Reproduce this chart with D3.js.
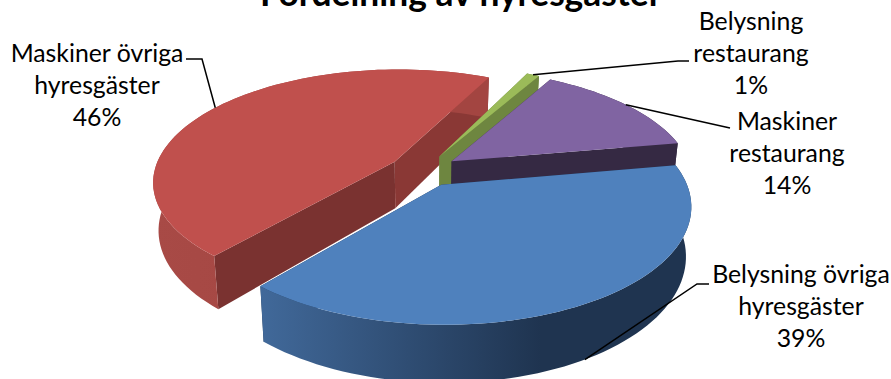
<!DOCTYPE html>
<html lang="sv">
<head>
<meta charset="utf-8">
<title>Fördelning av hyresgäster</title>
<script src="https://cdn.jsdelivr.net/npm/d3@7"></script>
<style>
  html, body { margin: 0; padding: 0; background: #fff; }
  svg { display: block; }
  text { font-family: Lato, "Open Sans", sans-serif; fill: #000; }
</style>
</head>
<body>
<svg id="chart" width="891" height="379"></svg>
<script>
// Slice data, in drawing order around the pie, clockwise
const categories = ["Belysning övriga hyresgäster", "Maskiner övriga hyresgäster", "Belysning restaurang", "Maskiner restaurang"];
const shares = [39, 46, 1, 14];
const labelLines = [["Belysning övriga", "hyresgäster", "39%"], ["Maskiner övriga", "hyresgäster", "46%"], ["Belysning", "restaurang", "1%"], ["Maskiner", "restaurang", "14%"]];
const chartTitle = "Fördelning av hyresgäster";

// Presentation
const topColors = ["#4f81bd", "#c0504d", "#9bbb59", "#8064a2"];
const startCutColors = ["#1f3552", "#7a3230", "#6e8640", "#352943"];
const endCutColors = ["#1f3552", "#8a3835", "#6e8640", "#352943"];
const rimStops = [["#41699a", "#1f3450", "#1f3450"], ["#a84a46", "#a34541", "#a34541"], ["#6e8640", "#6e8640", "#6e8640"], ["#352943", "#352943", "#352943"]];
const paintOrder = [1, 2, 3, 0];
const labelAnchors = [[801, 283], [97, 62], [751, 30], [787, 130]];
const elbows = [[[697, 284], [709, 284]], [[202, 59], [186, 59]], [[678, 61], [689, 61]], [[730, 128]]];
const anchorOnBase = [true, false, false, false];

// Tilted disc seen through a perspective camera
const cam = { cx: 423.5, cy: 170.5, rx: 240.5, ry: 110.8, k: 0.17, depth: 47, shrink: 0.02, explode: 0.145 };
const rad = d => d * Math.PI / 180;
const startDeg = 80;

function project(u, v, z) {
  const w = 1 - cam.k * v;
  const lift = 1 - cam.shrink * z;
  return [cam.cx + cam.rx * u / w * lift, cam.cy + (cam.ry * v + cam.depth * z) / w];
}

const arcs = d3.pie().sort(null).value(d => d)
  .startAngle(rad(startDeg)).endAngle(rad(startDeg) + 2 * Math.PI)(shares);

// Point at pie angle a (clockwise from north) and radius r on a slice pushed out along its bisector
function slicePoint(arc, a, r, z) {
  const mid = (arc.startAngle + arc.endAngle) / 2;
  const u = cam.explode * Math.sin(mid) + r * Math.sin(a);
  const v = -cam.explode * Math.cos(mid) - r * Math.cos(a);
  return project(u, v, z);
}
function rimAngles(arc) {
  const n = Math.max(4, Math.ceil((arc.endAngle - arc.startAngle) / rad(2)));
  return d3.range(n + 1).map(i => arc.startAngle + (arc.endAngle - arc.startAngle) * i / n);
}

const line = d3.line().curve(d3.curveLinear);
const svg = d3.select("#chart");
const defs = svg.append("defs");

paintOrder.forEach(i => {
  const arc = arcs[i];
  const g = svg.append("g").attr("class", "slice");
  const angles = rimAngles(arc);

  // Two cut faces running to the slice apex
  [[arc.startAngle, startCutColors[i]], [arc.endAngle, endCutColors[i]]].forEach(([a, color]) => {
    const face = [slicePoint(arc, a, 0, 0), slicePoint(arc, a, 1, 0), slicePoint(arc, a, 1, 1), slicePoint(arc, a, 0, 1)];
    g.append("path").attr("d", line(face) + "Z").attr("fill", color);
  });

  // Outer wall, shaded across its width
  const wall = angles.map(a => slicePoint(arc, a, 1, 0))
    .concat(angles.slice().reverse().map(a => slicePoint(arc, a, 1, 1)));
  const xs = d3.extent(wall, p => p[0]);
  const grad = defs.append("linearGradient").attr("id", "rim" + i)
    .attr("gradientUnits", "userSpaceOnUse")
    .attr("x1", xs[0]).attr("x2", xs[1]).attr("y1", 0).attr("y2", 0);
  rimStops[i].forEach((c, j) => grad.append("stop").attr("offset", j === 0 ? 0 : (j === 1 ? 0.65 : 1)).attr("stop-color", c));
  g.append("path").attr("d", line(wall) + "Z").attr("fill", `url(#rim${i})`);

  // Top surface
  const top = [slicePoint(arc, 0, 0, 0)].concat(angles.map(a => slicePoint(arc, a, 1, 0)));
  g.append("path").attr("d", line(top) + "Z").attr("fill", topColors[i]);
});

// Leader lines from each slice out to its label
arcs.forEach((arc, i) => {
  const mid = (arc.startAngle + arc.endAngle) / 2;
  const anchor = slicePoint(arc, mid, 1, anchorOnBase[i] ? 1 : 0);
  svg.append("path").attr("d", line([anchor].concat(elbows[i])))
    .attr("fill", "none").attr("stroke", "#000").attr("stroke-width", 1.5);
});

// Labels
labelLines.forEach((lines, i) => {
  const t = svg.append("text").attr("text-anchor", "middle").attr("font-size", 24.8)
    .attr("aria-label", categories[i]);
  lines.forEach((s, j) => t.append("tspan")
    .attr("x", labelAnchors[i][0]).attr("y", labelAnchors[i][1] + j * 32).text(s));
});

svg.append("text").attr("x", 461).attr("y", 6).attr("text-anchor", "middle")
  .attr("font-size", 35.4).attr("font-weight", 700).text(chartTitle);
</script>
</body>
</html>
